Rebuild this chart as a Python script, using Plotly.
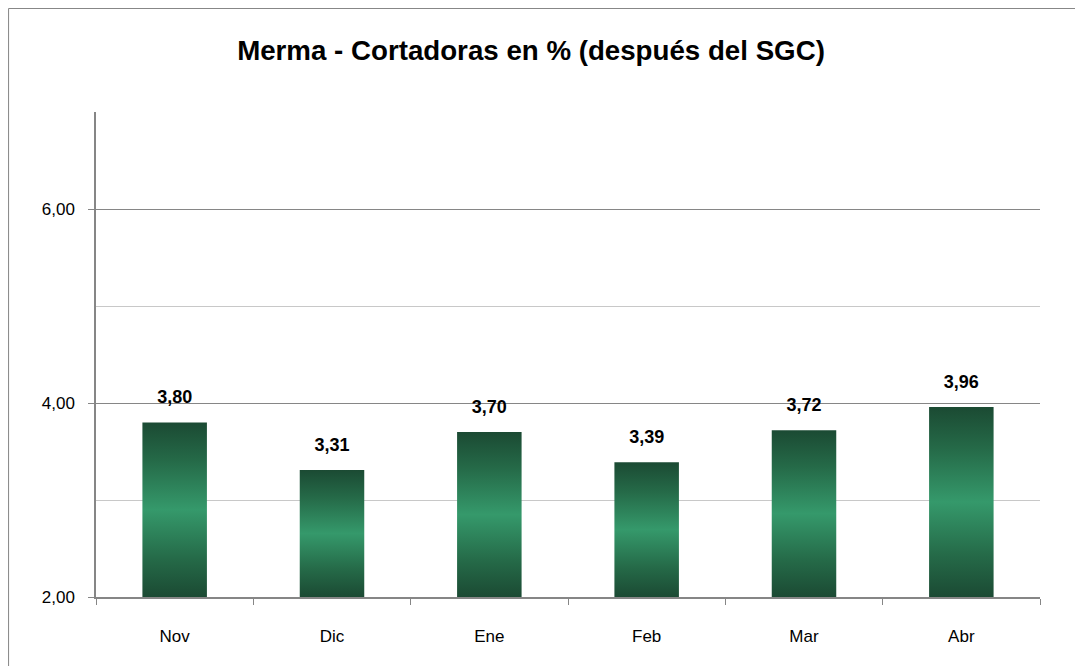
import plotly.graph_objects as go

meses = ["Nov", "Dic", "Ene", "Feb", "Mar", "Abr"]
merma = [3.80, 3.31, 3.70, 3.39, 3.72, 3.96]
y_ticks = [2, 4, 6]
y_minor = [3, 5, 7]
titulo = "Merma - Cortadoras en % (después del SGC)"

BASE = 2.0
HALF_W = 0.205
grad = [[0.0, "#1b4a33"], [0.22, "#256a48"], [0.5, "#35996b"], [0.78, "#256a48"], [1.0, "#1b4a33"]]

W, H = 1083, 666
ML, MR, MT, MB = 88, 51, 104, 77
PW, PH = W - ML - MR, H - MT - MB

fig = go.Figure()
for i, v in enumerate(merma):
    fig.add_trace(go.Scatter(
        x=[i - HALF_W, i + HALF_W, i + HALF_W, i - HALF_W, i - HALF_W],
        y=[BASE, BASE, v, v, BASE],
        mode="lines", fill="toself", line=dict(width=0),
        fillgradient=dict(type="vertical", colorscale=grad),
        hoverinfo="skip", showlegend=False,
    ))

fig.add_trace(go.Scatter(
    x=list(range(len(meses))), y=merma, mode="markers+text",
    marker=dict(size=22, color="rgba(0,0,0,0)"),
    text=[f"{v:.2f}".replace(".", ",") for v in merma],
    textposition="top center",
    textfont=dict(family="Liberation Sans", size=18, color="#000000", weight="bold"),
    showlegend=False, hoverinfo="skip",
))

fig.update_layout(
    width=W, height=H,
    margin=dict(l=ML, r=MR, t=MT, b=MB, autoexpand=False),
    paper_bgcolor="white", plot_bgcolor="white",
    title=dict(text="<b>" + titulo + "</b>", x=523 / W, xanchor="center", xref="container",
               y=1 - 42 / H, yanchor="middle",
               font=dict(family="Liberation Sans", size=27.7, color="#000000")),
    xaxis=dict(
        range=[-0.5, 5.5], tickmode="array", tickvals=list(range(len(meses))), ticktext=meses,
        showgrid=False, zeroline=False, ticks="", showline=True, linecolor="#868686", linewidth=1.5,
        tickfont=dict(family="Liberation Sans", size=17, color="#000000"),
        ticklabelstandoff=23,
        minor=dict(tickmode="array", tickvals=[k - 0.5 for k in range(len(meses) + 1)],
                   ticks="outside", ticklen=6, tickcolor="#868686", showgrid=False),
        fixedrange=True,
    ),
    yaxis=dict(
        range=[2, 7], tickmode="array", tickvals=y_ticks,
        ticktext=[f"{t:.2f}".replace(".", ",") for t in y_ticks],
        showgrid=True, gridcolor="#868686", gridwidth=1, zeroline=False,
        ticks="outside", ticklen=6, tickcolor="#868686",
        showline=True, linecolor="#868686", linewidth=1.5,
        tickfont=dict(family="Liberation Sans", size=17, color="#000000"),
        ticklabelstandoff=10,
        minor=dict(tickmode="array", tickvals=y_minor, showgrid=True, gridcolor="#c8c8c8",
                   gridwidth=1, ticks=""),
        fixedrange=True,
    ),
    shapes=[dict(type="rect", xref="paper", yref="paper",
                 x0=-ML / PW + 0.0006, x1=1 + (MR + 40) / PW,
                 y0=-(MB + 40) / PH, y1=1 + MT / PH - 0.001,
                 line=dict(color="#868686", width=1), fillcolor="rgba(0,0,0,0)", layer="below")],
)

fig.write_html("out.html")
